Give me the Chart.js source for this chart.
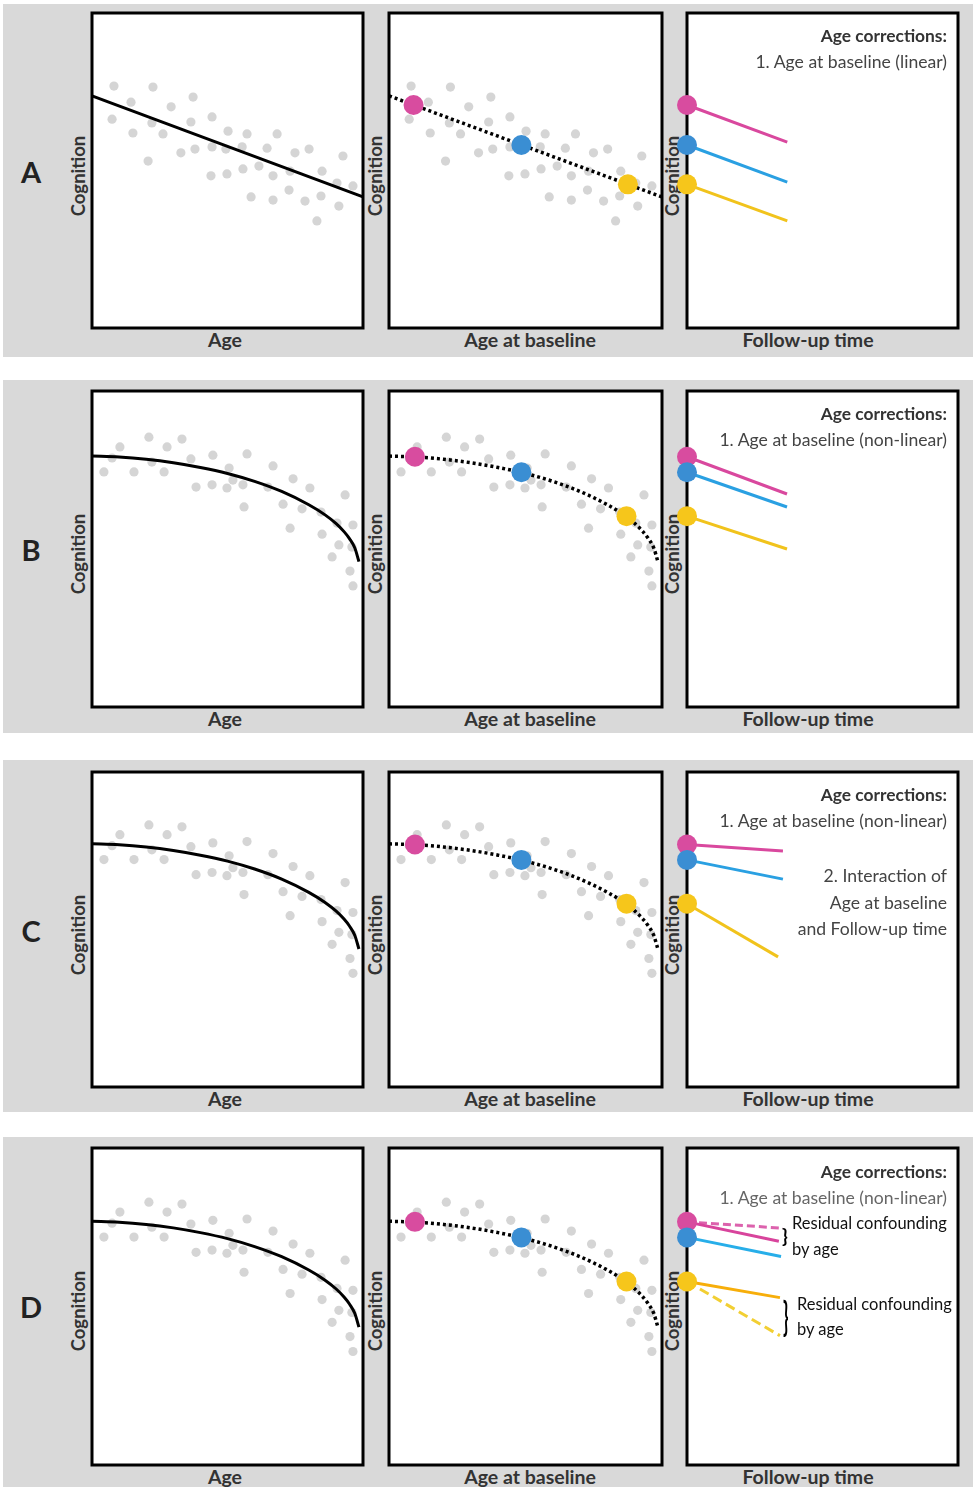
<!DOCTYPE html>
<html>
<head>
<meta charset="utf-8">
<script src="https://cdn.jsdelivr.net/npm/chart.js@4.4.1/dist/chart.umd.min.js"></script>
<style>
  body { margin: 0; background: #fff; }
  #fig { position: relative; width: 973px; height: 1487px; overflow: hidden; font-family: Lato, "Open Sans", sans-serif; }
  .band { position: absolute; left: 3px; width: 970px; background: #d9d9d9; }
  canvas { position: absolute; }
  .t { position: absolute; white-space: nowrap; line-height: 1; }
  .ax { font-weight: 700; color: #333; font-size: 19.5px; transform: translate(-50%, -50%); }
  .ay { font-weight: 700; color: #333; font-size: 18.5px; transform: translate(-50%, -50%) rotate(-90deg); }
  .letter { font-weight: 700; color: #222; font-size: 29px; transform: translate(-50%, -50%); }
  .note { font-size: 17.6px; color: #444; transform: translateY(-50%); text-align: right; }
  .note.b { font-weight: 700; color: #333; font-size: 17.4px; }
  .note.light { color: #666; }
  .res { font-size: 16.5px; color: #111; transform: translateY(-50%); }
  .brace { font-size: 19px; color: #000; font-weight: 700; transform: translateY(-50%); }
</style>
</head>
<body>
<div id="fig"></div>
<script>
// ---- text ----
const rowNames = ['A', 'B', 'C', 'D'];
const xTitles = ['Age', 'Age at baseline', 'Follow-up time'];
const yTitle = 'Cognition';
const notesA = ['Age corrections:', '1. Age at baseline (linear)'];
const notesB = ['Age corrections:', '1. Age at baseline (non-linear)'];
const notesC = ['Age corrections:', '1. Age at baseline (non-linear)', '2. Interaction of', 'Age at baseline', 'and Follow-up time'];
const notesD = ['Age corrections:', '1. Age at baseline (non-linear)'];
const residualText = ['Residual confounding', 'by age'];

// ---- data (0-100 scales) ----
// sample with a linear age decline
const linAge = [8.1, 22.5, 37.3, 14.4, 29.2, 7.4, 22.1, 36.5, 44.3, 15.1, 26.2, 50.2, 57.2, 68.3, 38.0, 44.3, 49.4, 55.4, 64.6, 32.8,
                20.7, 74.9, 80.1, 92.6, 43.9, 49.8, 55.7, 61.6, 66.8, 73.1, 84.9, 90.4, 96.3, 58.7, 66.8, 72.7, 78.6, 84.5, 91.1, 83.0];
const linCog = [76.8, 76.5, 73.3, 71.7, 70.2, 66.3, 65.1, 65.4, 67.0, 61.9, 61.6, 62.5, 61.6, 61.6, 56.8, 57.5, 56.8, 57.5, 57.1, 55.6,
                53.0, 55.6, 56.8, 54.6, 48.3, 48.9, 50.5, 51.4, 48.3, 49.8, 49.8, 46.0, 45.1, 41.6, 40.6, 43.8, 40.3, 41.9, 38.7, 34.0];
// sample with an accelerating age decline
const curAge = [21.0, 33.2, 10.3, 27.7, 44.6, 57.2, 7.4, 22.1, 36.5, 4.4, 15.5, 26.6, 50.6, 66.8, 38.4, 44.3, 49.8, 52.0,
                55.7, 64.9, 74.2, 80.4, 93.4, 56.1, 70.5, 77.5, 84.5, 96.3, 90.4, 73.1, 84.9, 91.1, 95.9, 88.6, 95.2, 96.3];
const curCog = [85.4, 84.8, 82.3, 82.3, 79.7, 80.1, 78.8, 77.5, 78.5, 74.4, 74.4, 74.4, 75.6, 76.3, 69.6, 70.3, 69.3, 71.8,
                70.3, 69.6, 72.2, 69.3, 67.1, 63.3, 64.2, 62.7, 61.7, 57.6, 58.2, 56.6, 54.7, 51.3, 50.6, 47.5, 43.0, 38.3];
// fitted age curves
const linFitAge = [0, 100];
const linFitCog = [73.7, 41.6];
const curFitAge = [0, 10, 20, 30, 40, 50, 60, 70, 80, 86, 90, 93, 95, 97, 98.5];
const curFitCog = [79.4, 79.1, 78.4, 77.3, 75.8, 73.9, 71.4, 68.2, 64.0, 60.8, 58.1, 55.5, 53.3, 50.3, 46.0];
// three individuals at baseline (pink, blue, yellow)
const linBaseAge = [9, 48.5, 87.5];
const linBaseCog = [70.8, 58.1, 45.6];
const curBaseAge = [9.5, 48.5, 87];
const curBaseCog = [79.2, 74.3, 60.4];
// follow-up trajectories: end time and end cognition per individual
const fuTimeA = [37, 37, 37];       const fuCogA = [59.0, 46.3, 34.0];
const fuTimeB = [36.9, 36.9, 36.9]; const fuCogB = [67.4, 63.3, 50.0];
const fuTimeC = [35.4, 35.4, 33.6]; const fuCogC = [77.1, 68.2, 43.5];
const fuTimeD = [33.9, 34.7, 34.3]; const fuCogD = [73.1, 68.3, 55.3];
// dashed trajectories in D (pink, yellow)
const fuTimeDdash = [35.4, 34.3];   const fuCogDdash = [77.2, 43.3];

// ---- layout & style ----
const cols = [[92, 363], [389, 662], [687, 958]];
const rows = [[13, 328], [391, 707], [772, 1087], [1148, 1465]];
const bands = [[4, 357], [380, 733], [760, 1112], [1137, 1487]];
const rowShift = [0, 0, 2.2, 2.5];
const titleX = [225, 530, 808];
const cogX = [78, 375, 672];
const PAD = 14;
const dotColors = ['#d84c9f', '#3a8ed3', '#f6c61b'];
const lineColors = ['#d9489e', '#2aa0e2', '#f1c31c'];
const lineColorsD = ['#d8449c', '#27aee9', '#f7ae0a'];
const dashColorsD = ['#dc62ad', '#f2cf33'];
const grey = '#d5d5d5';

const fig = document.getElementById('fig');

function addText(cls, txt, css) {
  const d = document.createElement('div');
  d.className = 't ' + cls;
  d.textContent = txt;
  Object.assign(d.style, css);
  fig.appendChild(d);
  return d;
}

bands.forEach(([a, b]) => {
  const d = document.createElement('div');
  d.className = 'band';
  d.style.top = a + 'px';
  d.style.height = (b - a) + 'px';
  fig.appendChild(d);
});

// labels
rows.forEach(([y0, y1], r) => {
  addText('letter', rowNames[r], { left: '31px', top: (y0 + 158) + 'px' });
  for (let c = 0; c < 3; c++) {
    addText('ay', yTitle, { left: cogX[c] + 'px', top: (y0 + 163) + 'px' });
    addText('ax', xTitles[c], { left: titleX[c] + 'px', top: (y1 + 12) + 'px' });
  }
});

const boxPlugin = {
  id: 'panelBox',
  beforeDraw(ch) {
    const a = ch.chartArea, ctx = ch.ctx;
    ctx.save();
    ctx.fillStyle = '#fff';
    ctx.fillRect(a.left, a.top, a.right - a.left, a.bottom - a.top);
    ctx.restore();
  },
  beforeDatasetsDraw(ch) {
    const a = ch.chartArea, ctx = ch.ctx;
    ctx.save();
    ctx.strokeStyle = '#000';
    ctx.lineWidth = 3;
    ctx.strokeRect(a.left, a.top, a.right - a.left, a.bottom - a.top);
    ctx.restore();
  }
};

function pts(xs, ys) { return xs.map((x, i) => ({ x, y: ys[i] })); }

function scatterSet(xs, ys) {
  return { data: pts(xs, ys), showLine: false, pointRadius: 4.6, pointBackgroundColor: grey, pointBorderWidth: 0, clip: false };
}
function fitSet(xs, ys, dotted) {
  return {
    data: pts(xs, ys), showLine: true, pointRadius: 0, borderColor: '#000',
    borderWidth: dotted ? 3.5 : 3, borderDash: dotted ? [3, 3] : [],
    cubicInterpolationMode: 'monotone', fill: false, clip: false
  };
}
function dotSet(xs, ys) {
  return { data: pts(xs, ys), showLine: false, pointRadius: 10, pointBackgroundColor: dotColors, pointBorderWidth: 0, clip: false };
}
function segSet(x0, y0, x1, y1, color, dash) {
  return { data: [{ x: x0, y: y0 }, { x: x1, y: y1 }], showLine: true, pointRadius: 0, borderColor: color,
           borderWidth: 3, borderDash: dash || [], borderCapStyle: 'butt', clip: false };
}

function makeChart(r, c, datasets) {
  const [x0, x1] = cols[c], [y0, y1] = rows[r];
  const cv = document.createElement('canvas');
  cv.width = x1 - x0 + 2 * PAD;
  cv.height = y1 - y0 + 2 * PAD;
  cv.style.left = (x0 - PAD) + 'px';
  cv.style.top = (y0 - PAD) + 'px';
  fig.appendChild(cv);
  new Chart(cv, {
    type: 'scatter',
    data: { datasets },
    options: {
      responsive: false, animation: false, devicePixelRatio: 1, events: [],
      layout: { padding: PAD },
      plugins: { legend: { display: false }, tooltip: { enabled: false } },
      scales: {
        x: { type: 'linear', min: 0, max: 100, display: false },
        y: { type: 'linear', min: rowShift[r], max: 100 + rowShift[r], display: false }
      }
    },
    plugins: [boxPlugin]
  });
}

const fuTimes = [fuTimeA, fuTimeB, fuTimeC, fuTimeD];
const fuCogs = [fuCogA, fuCogB, fuCogC, fuCogD];

for (let r = 0; r < 4; r++) {
  const lin = r === 0;
  const sAge = lin ? linAge : curAge, sCog = lin ? linCog : curCog;
  const fAge = lin ? linFitAge : curFitAge, fCog = lin ? linFitCog : curFitCog;
  const bAge = lin ? linBaseAge : curBaseAge, bCog = lin ? linBaseCog : curBaseCog;

  // Age vs cognition
  makeChart(r, 0, [fitSet(fAge, fCog, false), scatterSet(sAge, sCog)]);
  // Age at baseline
  makeChart(r, 1, [dotSet(bAge, bCog), fitSet(fAge, fCog, true), scatterSet(sAge, sCog)]);
  // Follow-up trajectories
  const lc = r === 3 ? lineColorsD : lineColors;
  const sets = [dotSet([0, 0, 0], bCog)];
  for (let i = 0; i < 3; i++) {
    sets.push(segSet(0, bCog[i], fuTimes[r][i], fuCogs[r][i], lc[i]));
  }
  if (r === 3) {
    sets.push(segSet(0, bCog[0], fuTimeDdash[0], fuCogDdash[0], dashColorsD[0], [8, 4]));
    sets.push(segSet(0, bCog[2], fuTimeDdash[1], fuCogDdash[1], dashColorsD[1], [10, 5]));
  }
  makeChart(r, 2, sets);
}

// notes in the follow-up panels
const notes = [notesA, notesB, notesC, notesD];
const noteOffsets = [23, 49, 104, 131, 157];
rows.forEach(([y0], r) => {
  notes[r].forEach((txt, i) => {
    let cls = 'note' + (i === 0 ? ' b' : '') + (r === 3 && i === 1 ? ' light' : '');
    addText(cls, txt, { right: '26px', top: (y0 + noteOffsets[i] + (r === 3 ? 1 : 0)) + 'px' });
  });
});

// residual confounding annotations in D
const yD = rows[3][0];
addText('res', residualText[0], { left: '792px', top: (yD + 75) + 'px' });
addText('res', residualText[1], { left: '792px', top: (yD + 101) + 'px' });
addText('res', residualText[0], { left: '797px', top: (yD + 156) + 'px' });
addText('res', residualText[1], { left: '797px', top: (yD + 181) + 'px' });
addText('brace', '}', { left: '782px', top: (yD + 87) + 'px' });
addText('brace', '}', { left: '783px', top: (yD + 168) + 'px', fontSize: '18px', transform: 'translateY(-50%) scaleY(2.2)' });
</script>
</body>
</html>
